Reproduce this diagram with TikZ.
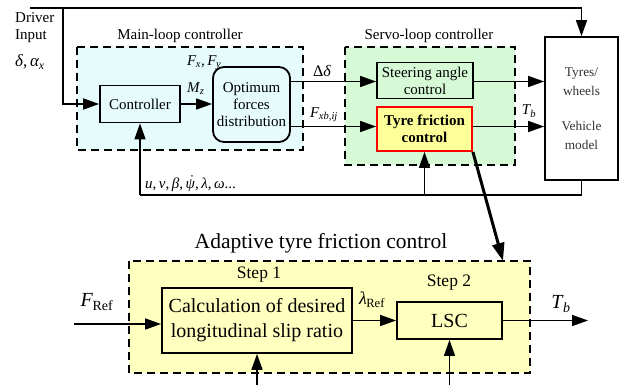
\documentclass[tikz,border=0pt]{standalone}
\usepackage{fontspec}
\setmainfont{Liberation Serif}
\usetikzlibrary{arrows.meta,calc}

\definecolor{mainfill}{HTML}{E6FCFC}
\definecolor{servofill}{HTML}{D6FAD6}
\definecolor{tfcfill}{HTML}{FFFF99}
\definecolor{atfill}{HTML}{FFFFC0}
\definecolor{tfcred}{HTML}{FF0000}

% italic symbol and italic/upright subscripts set in the text font
\newcommand\vi[1]{\textit{#1}}
\newcommand\sbi[1]{\textsubscript{\kern-0.5pt\textit{#1}}}
\newcommand\sbr[1]{\textsubscript{\kern-0.5pt #1}}
% psi with a dot above (time derivative)
\newcommand\psidot{{\ooalign{\vi{ψ}\cr\hidewidth\raisebox{0.22em}{\kern0.12em\vi{˙}}\hidewidth\cr}}}

\tikzset{
  wire/.style={line width=1.6pt},
  sig/.style={line width=1.6pt, -{Triangle[length=16pt,width=11pt]}},
  bigsig/.style={line width=3pt, -{Triangle[length=18pt,width=12pt]}},
  frame/.style={line width=2pt, dash pattern=on 8pt off 5pt},
  blk/.style={draw, line width=1.8pt, inner sep=0pt, align=center},
  small/.style={font=\fontsize{15}{17}\selectfont},
  large/.style={font=\fontsize{20}{25}\selectfont},
  title/.style={font=\fontsize{21.5}{25}\selectfont},
}

\begin{document}
\begin{tikzpicture}[x=1pt,y=-1pt]
\useasboundingbox (0,0) rectangle (626,385);

% ---------- dashed frames ----------
\draw[frame, fill=mainfill] (77,47) rectangle (303,150);
\draw[frame, fill=servofill] (345,47) rectangle (515,165);
\draw[frame, fill=atfill] (129,261) rectangle (530,373);

% ---------- frame titles ----------
\node[small] (tmain) at (180,36) {Main-loop controller};
\node[small] (tservo) at (429,36) {Servo-loop controller};
\node[title] (tat) at (321,243) {Adaptive tyre friction control};
\node[font=\fontsize{17.5}{20}\selectfont] (st1) at (259,275) {Step 1};
\node[font=\fontsize{17.5}{20}\selectfont] (st2) at (449,283) {Step 2};

% ---------- label partly behind the distribution block ----------
\node[small, anchor=west, inner sep=0pt] (lfxy) at (187,63) {\vi{F}\sbi{x},\,\vi{F}\sbi{y}};

% ---------- blocks ----------
\node[blk, small, fill=mainfill, minimum width=80pt, minimum height=37pt] (ctrl) at (140,104) {Controller};
\node[blk, small, fill=mainfill, rounded corners=11pt, minimum width=77pt, minimum height=75pt] (opt)
      at (251.5,104.5) {Optimum\\forces\\distribution};
\node[blk, small, fill=servofill, minimum width=96pt, minimum height=36pt] (steer) at (425,80.5) {Steering angle\\control};
\node[blk, draw=tfcred, fill=tfcfill, minimum width=95pt, minimum height=44pt,
      font=\fontsize{15}{17}\selectfont\bfseries] (tfc) at (424.5,129) {Tyre friction\\control};
\node[blk, fill=white, minimum width=73pt, minimum height=143pt, text=black!80,
      font=\fontsize{13.3}{18.5}\selectfont] (veh) at (581.5,108.5) {Tyres/\\wheels\\[17pt]Vehicle\\model};
\node[blk, large, fill=atfill, minimum width=190pt, minimum height=65pt] (calc) at (257,320.5)
      {Calculation of desired\\longitudinal slip ratio};
\node[blk, large, fill=atfill, minimum width=105pt, minimum height=37pt] (lsc) at (449.5,320.5) {LSC};

% ---------- driver input ----------
\node[small, anchor=north west, align=left, inner sep=0pt] (drv) at (15,12) {Driver\\Input};
\node[font=\fontsize{17}{20}\selectfont, anchor=west, inner sep=0pt] (drvsym) at (15,62) {\vi{δ},\,\vi{α}\sbi{x}};

\coordinate (din) at (30,8);
\coordinate (dbr) at (63,8);
\draw[wire] (din) -- (veh.north |- din);
\draw[sig] (veh.north |- din) -- (veh.north);
\draw[sig] (dbr) |- (ctrl.west);

% ---------- main loop signals ----------
\draw[sig] (ctrl.east) -- (opt.west |- ctrl.east);
\node[small, anchor=west, inner sep=0pt] (lmz) at (187,89) {\vi{M}\sbi{z}};

\coordinate (yd) at (0,81.5);
\coordinate (yf) at (0,126.5);
\draw[sig] (opt.east |- yd) -- (steer.west |- yd);
\draw[sig] (opt.east |- yf) -- (tfc.west |- yf);
\node[font=\fontsize{16}{18}\selectfont] (ldd) at (322,71) {Δ\vi{δ}};
\node[small] (lfxb) at (324,115) {\vi{F}\sbi{xb,ij}};

\draw[sig] (steer.east |- yd) -- (veh.west |- yd);
\draw[sig] (tfc.east |- yf) -- (veh.west |- yf);
\node[small] (ltb) at (529,111) {\vi{T}\sbi{b}};

% ---------- feedback ----------
\coordinate (fb) at (0,195);
\draw[wire] (veh.south) -- (veh.south |- fb) -- (ctrl.south |- fb);
\draw[sig] (ctrl.south |- fb) -- (ctrl.south);
\draw[sig] (tfc.south |- fb) -- (tfc.south);
\node[small, anchor=west, inner sep=0pt] (lfb) at (145,185)
      {\vi{u},\,\vi{v},\,\vi{β},\,\psidot,\,\vi{λ},\,\vi{ω}...};

% ---------- zoom into tyre friction control ----------
\coordinate (zt) at (503,261);
\draw[bigsig] (tfc.south east) -- (zt);

% ---------- adaptive tyre friction control ----------
\coordinate (fin) at (74,324);
\draw[sig] (fin) -- (calc.west |- fin);
\node[large] (lfref) at (97,302) {\vi{F}\sbr{Ref}};

\draw[sig] (calc.east) -- (lsc.west);
\node[font=\fontsize{18}{20}\selectfont] (llref) at (372,300) {\vi{λ}\sbr{Ref}};

\coordinate (tout) at (588,320.5);
\draw[sig] (lsc.east) -- (tout);
\node[large] (ltb2) at (561,304) {\vi{T}\sbi{b}};

\coordinate (cin) at (257,385);
\coordinate (lin) at (449.5,385);
\draw[sig] (cin) -- (calc.south);
\draw[sig] (lin) -- (lsc.south);
\end{tikzpicture}
\end{document}
